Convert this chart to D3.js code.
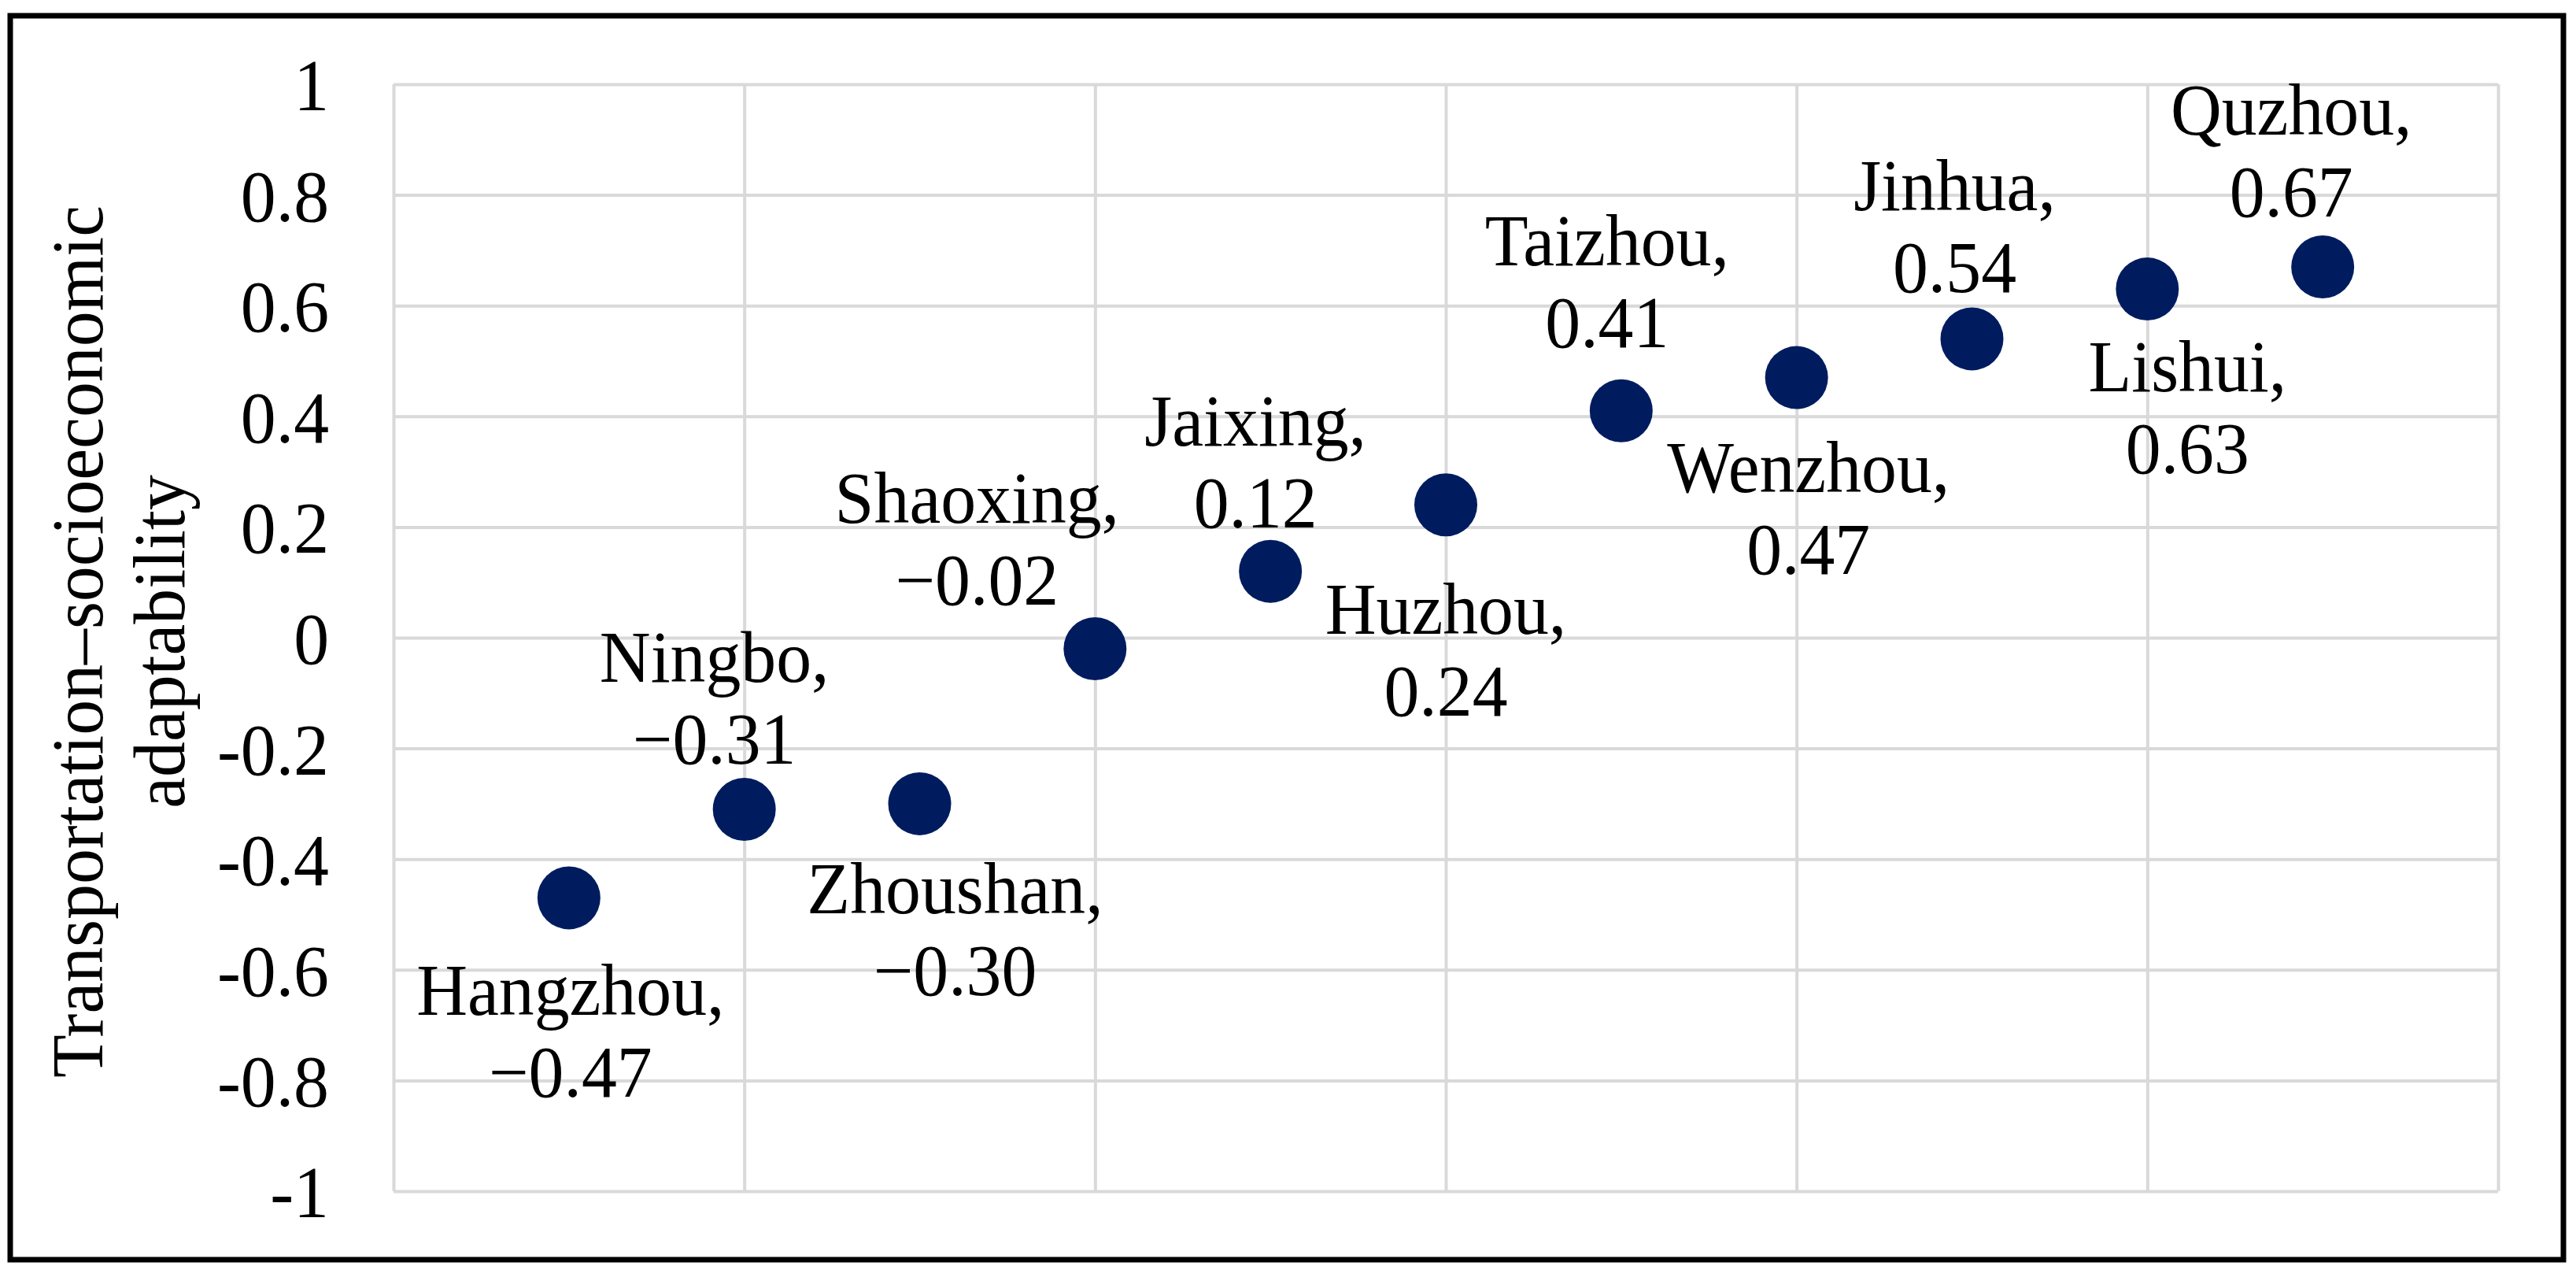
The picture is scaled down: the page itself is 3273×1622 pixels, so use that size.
<!DOCTYPE html>
<html>
<head>
<meta charset="utf-8">
<script src="https://cdn.jsdelivr.net/npm/d3@7"></script>
<style>
  html, body { margin: 0; padding: 0; background: #fff; }
  svg { display: block; }
  text { font-family: "Liberation Serif", "Times New Roman", serif; fill: #000; }
</style>
</head>
<body>
<svg class="chart"></svg>
<script>
// data
const cities = ["Hangzhou", "Ningbo", "Zhoushan", "Shaoxing", "Jaixing", "Huzhou",
                "Taizhou", "Wenzhou", "Jinhua", "Lishui", "Quzhou"]
const order = [1, 2, 3, 4, 5, 6, 7, 8, 9, 10, 11]
const adaptability = [-0.47, -0.31, -0.30, -0.02, 0.12, 0.24, 0.41, 0.47, 0.54, 0.63, 0.67]
const yTicks = [-1, -0.8, -0.6, -0.4, -0.2, 0, 0.2, 0.4, 0.6, 0.8, 1]
const xTicks = [0, 2, 4, 6, 8, 10, 12]
const yTitle = ["Transportation\u2013socioeconomic", "adaptability"]

// where each data label sits relative to its marker (layout only)
const labelSide = ["below", "above", "below", "above", "above", "below",
                   "above", "below", "above", "below", "above"]
const labelDx = [2, -38, 45, -150, -19, 0, -18, 15, -22, 51, -40]
const labelDy = [149, -58, 139, -56, -56, 164, -81, 145, -59, 130, -64]

const width = 3273,
      height = 1622,
      fontSize = 93,
      sx = 0.965,          // the source type is a touch narrower than it is tall
      lineGap = 104,
      margin = { left: 500, top: 107, right: width - 3174, bottom: height - 1513 },
      plotW = width - margin.left - margin.right,
      plotH = height - margin.top - margin.bottom,
      gridColor = "#d9d9d9",
      dotColor = "#001c5e"

const svg = d3.select(".chart")
    .attr("width", width)
    .attr("height", height)

// outer frame
svg.append("rect")
    .attr("x", 13).attr("y", 20)
    .attr("width", 3257 - 13).attr("height", 1600 - 20)
    .attr("fill", "#fff")
    .attr("stroke", "#000")
    .attr("stroke-width", 7)

const x = d3.scaleLinear().domain([0, 12]).range([0, plotW])
const y = d3.scaleLinear().domain([-1, 1]).range([plotH, 0])

const g = svg.append("g").attr("transform", `translate(${margin.left},${margin.top})`)

// vertical gridlines
const xAxis = g.append("g")
    .attr("transform", `translate(0,${plotH})`)
    .call(d3.axisBottom(x).tickValues(xTicks).tickSize(-plotH).tickFormat(""))
xAxis.select(".domain").remove()
xAxis.selectAll(".tick line").attr("stroke", gridColor).attr("stroke-width", 4)

// horizontal gridlines + labels
const yAxis = g.append("g")
    .call(d3.axisLeft(y).tickValues(yTicks).tickSize(-plotW).tickPadding(82)
      .tickFormat(d => String(+d.toFixed(1))))
yAxis.select(".domain").remove()
yAxis.selectAll(".tick line").attr("stroke", gridColor).attr("stroke-width", 4)
yAxis.selectAll(".tick text")
    .attr("font-size", fontSize)
    .attr("font-family", "Liberation Serif, Times New Roman, serif")
    .attr("fill", "#000")
    .attr("x", -82 / sx)
    .attr("dy", "0.35em")
    .attr("transform", `scale(${sx},1)`)

// axis title
svg.append("text")
    .attr("transform", `translate(130,815) rotate(-90) scale(${sx},1)`)
    .attr("text-anchor", "middle")
    .attr("font-size", fontSize)
  .selectAll("tspan")
  .data(yTitle)
  .enter()
  .append("tspan")
    .attr("x", 0)
    .attr("dy", (d, i) => i === 0 ? 0 : lineGap)
    .text(d => d)

const points = cities.map((c, i) => ({
  city: c, x: order[i], v: adaptability[i],
  side: labelSide[i], dx: labelDx[i], dy: labelDy[i]
}))

// markers
g.append("g")
  .selectAll("circle")
  .data(points)
  .enter()
  .append("circle")
    .attr("cx", d => x(d.x))
    .attr("cy", d => y(d.v))
    .attr("r", 40)
    .attr("fill", dotColor)

const fmt = v => (v < 0 ? "\u2212" : "") + Math.abs(v).toFixed(2)

// data labels: "City," over value
const labels = g.append("g")
  .selectAll("text")
  .data(points)
  .enter()
  .append("text")
    .attr("text-anchor", "middle")
    .attr("font-size", fontSize)
    .attr("transform", d => {
      const cy = y(d.v)
      const base1 = d.side === "below" ? cy + d.dy : cy + d.dy - lineGap
      return `translate(${x(d.x) + d.dx},${base1}) scale(${sx},1)`
    })

labels.append("tspan")
    .attr("x", 0).attr("y", 0)
    .text(d => d.city + ",")

labels.append("tspan")
    .attr("x", 0).attr("y", lineGap)
    .text(d => fmt(d.v))
</script>
</body>
</html>
